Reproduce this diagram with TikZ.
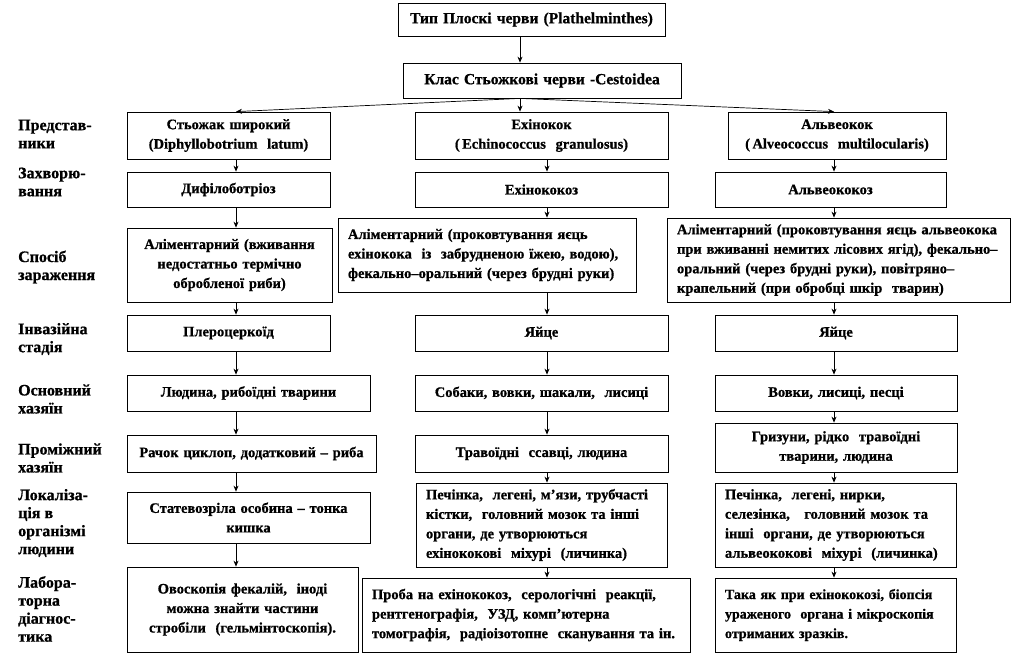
\documentclass[tikz,border=0pt]{standalone}
\usepackage{fontspec}
\setmainfont{Liberation Serif}[BoldFeatures={FakeBold=0.8}]
\usetikzlibrary{arrows.meta,calc}
\newcommand{\mybox}[7][]{%
  \node[box, minimum width={(#5-#3)*1pt}, minimum height={(#6-#4)*1pt},
        text width={(#5-#3-20)*1pt}, #1] (#2) at ({(#3+#5)/2},{(#4+#6)/2}) {#7};}
\begin{document}
\begin{tikzpicture}[x=1pt,y=-1pt,
  box/.style={draw, line width=0.8pt, inner sep=0pt, align=center,
              font=\bfseries\fontsize{14.5}{19.5}\selectfont},
  head/.style={font=\bfseries\fontsize{15.5}{19.5}\selectfont},
  small/.style={font=\bfseries\fontsize{14}{19.5}\selectfont},
  lbl/.style={anchor=west, align=left, inner sep=0pt,
              font=\bfseries\fontsize{16}{18}\selectfont},
  arr/.style={-{Stealth[length=6pt,width=5pt]}, line width=0.7pt}]
\useasboundingbox (0,0) rectangle (1014,654);

% header
\mybox[head]{t1}{398}{3}{665}{36}{Тип Плоскі черви (Plathelminthes)}
\mybox[head]{t2}{403}{63}{681}{98}{Клас Стьожкові черви -Cestoidea}

% row 1
\mybox{r1c1}{127}{112}{330}{159}{Стьожак широкий\\(Diphyllobotrium\ \ latum)}
\mybox{r1c2}{415}{112}{668}{159}{Ехінокок\\(\,Echinococcus\ \ granulosus)}
\mybox{r1c3}{728}{112}{946}{159}{Альвеокок\\(\,Alveococcus\ \ multilocularis)}
% row 2
\mybox{r2c1}{127}{172}{330}{207}{Дифілоботріоз}
\mybox{r2c2}{415}{172}{668}{207}{Ехінококоз}
\mybox{r2c3}{715}{172}{946}{207}{Альвеококоз}
% row 3
\mybox{r3c1}{127}{228}{332}{302}{Аліментарний (вживання\\недостатньо термічно\\обробленої риби)}
\mybox[align=left]{r3c2}{338}{218}{636}{292}{Аліментарний (проковтування яєць\\ехінокока\ \ із\ \ забрудненою їжею, водою),\\фекально–оральний (через брудні руки)}
\mybox[align=left]{r3c3}{667}{218}{1010}{302}{Аліментарний (проковтування яєць альвеокока\\при вживанні немитих лісових ягід), фекально–\\оральний (через брудні руки), повітряно–\\крапельний (при обробці шкір\ \ тварин)}
% row 4
\mybox{r4c1}{127}{315}{330}{351}{Плероцеркоїд}
\mybox{r4c2}{415}{315}{668}{351}{Яйце}
\mybox{r4c3}{715}{315}{957}{351}{Яйце}
% row 5
\mybox{r5c1}{127}{375}{370}{411}{Людина, рибоїдні тварини}
\mybox{r5c2}{415}{375}{668}{411}{Собаки, вовки, шакали,\ \ лисиці}
\mybox{r5c3}{715}{375}{957}{411}{Вовки, лисиці, песці}
% row 6
\mybox{r6c1}{127}{435}{376}{472}{Рачок циклоп, додатковий – риба}
\mybox{r6c2}{415}{435}{668}{472}{Травоїдні\ \ ссавці, людина}
\mybox{r6c3}{715}{423}{957}{472}{Гризуни, рідко\ \ травоїдні\\тварини, людина}
% row 7
\mybox{r7c1}{127}{492}{370}{543}{Статевозріла особина – тонка\\кишка}
\mybox[align=left]{r7c2}{416}{483}{667}{567}{Печінка,\ \ легені, м’язи, трубчасті\\кістки,\ \ головний мозок та інші\\органи, де утворюються\\ехінококові\ \ міхурі\ \ (личинка)}
\mybox[align=left]{r7c3}{715}{483}{956}{567}{Печінка,\ \ легені, нирки,\\селезінка,\ \ \ головний мозок та\\інші\ \ органи, де утворюються\\альвеококові\ \ міхурі\ \ (личинка)}
% row 8
\mybox{r8c1}{127}{567}{358}{652}{Овоскопія фекалій,\ \ іноді\\можна знайти частини\\стробіли\ \ (гельмінтоскопія).}
\mybox[align=left]{r8c2}{362}{578}{690}{652}{Проба на ехінококоз,\ \ серологічні\ \ реакції,\\рентгенографія,\ \ УЗД, комп’ютерна\\томографія,\ \ радіоізотопне\ \ сканування та ін.}
\mybox[align=left,small]{r8c3}{715}{578}{956}{652}{Така як при ехінококозі, біопсія\\ураженого\ \ органа і мікроскопія\\отриманих зразків.}

% row labels
\node[lbl] (l1) at (18,134) {Представ-\\ники};
\node[lbl] (l2) at (18,182) {Захворю-\\вання};
\node[lbl] (l3) at (18,267) {Спосіб\\зараження};
\node[lbl] (l4) at (18,339) {Інвазійна\\стадія};
\node[lbl] (l5) at (18,399) {Основний\\хазяїн};
\node[lbl] (l6) at (18,458) {Проміжний\\хазяїн};
\node[lbl] (l7) at (18,523) {Локаліза-\\ція в\\організмі\\людини};
\node[lbl] (l8) at (18,609) {Лабора-\\торна\\діагнос-\\тика};

% arrow columns
\coordinate (c0) at (520,0);
\coordinate (c1) at (236,0);
\coordinate (c2) at (547,0);
\coordinate (c3) at (834,0);

\draw[arr] (t1.south -| c0) -- (t2.north -| c0);
\coordinate (split) at (t2.south -| c0);
\draw[arr] (split) -- (r1c1.north -| c1);
\draw[arr] (split) -- (r1c2.north -| c0);
\draw[arr] (split) -- (r1c3.north -| c3);

\foreach \c/\x in {c1/c1,c2/c2,c3/c3}{
  \foreach \a/\b in {1/2,2/3,3/4,4/5,5/6,6/7,7/8}{
    \draw[arr] (r\a\c.south -| \x) -- (r\b\c.north -| \x);
  }
}
\end{tikzpicture}
\end{document}
